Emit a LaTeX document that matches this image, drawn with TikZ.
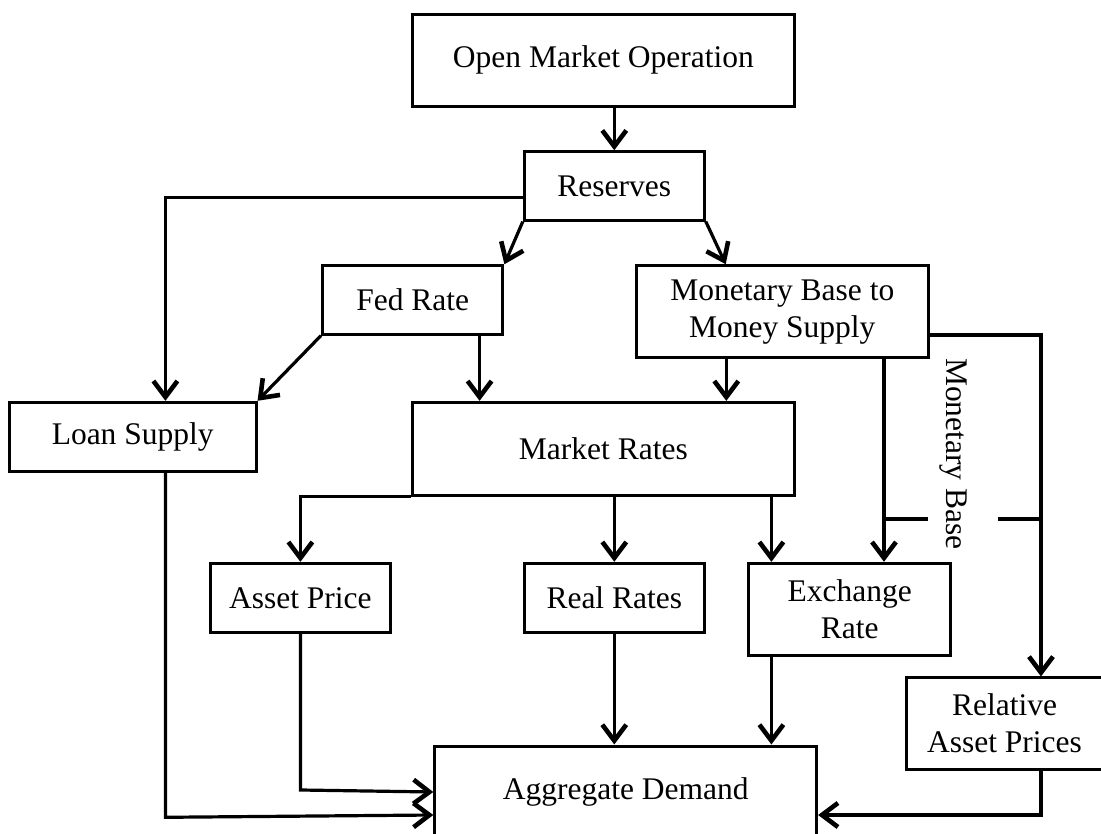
\documentclass[tikz,border=0pt]{standalone}
\usepackage{fontspec}
\setmainfont{Liberation Serif}
\usetikzlibrary{arrows.meta}
\begin{document}
\begin{tikzpicture}[x=1pt,y=-1pt,
  box/.style={draw, line width=3pt, inner sep=0pt, align=center,
    font=\fontsize{31.5}{37}\selectfont},
  link/.style={line width=3.2pt},
  arr/.style={link, -{Straight Barb[length=16pt,width=24pt,line width=4.6pt]}},
  lbl/.style={inner sep=0pt, font=\fontsize{31.5}{37}\selectfont}]
  % canvas
  \fill[white] (0,0) rectangle (1101,834);
  \useasboundingbox (0,0) rectangle (1101,834);

  % boxes
  \node[box, minimum width=381.8pt, minimum height=91.7pt] (omo)   at (603.4,60.2)  {Open Market Operation};
  \node[box, minimum width=180pt,   minimum height=68.3pt] (res)   at (614.3,185.9) {Reserves};
  \node[box, minimum width=180.4pt, minimum height=68.3pt] (fed)   at (412.7,299.9) {Fed Rate};
  \node[box, minimum width=291.8pt, minimum height=92pt]   (mb)    at (782.3,311.7) {Monetary Base to\\Money Supply};
  \node[box, minimum width=246.7pt, minimum height=69.4pt] (loan)  at (132.7,437)   {Loan Supply};
  \node[box, minimum width=381.8pt, minimum height=92.7pt] (mr)    at (603.4,448.7) {Market Rates};
  \node[box, minimum width=180pt,   minimum height=69pt]   (asset) at (300.4,597.8) {Asset Price};
  \node[box, minimum width=180pt,   minimum height=69pt]   (real)  at (614.3,597.8) {Real Rates};
  \node[box, minimum width=202pt,   minimum height=92pt]   (exch)  at (849.7,609.3) {Exchange\\Rate};
  \node[box, minimum width=197pt,   minimum height=91.3pt] (rel)   at (1004.5,723.6) {Relative\\Asset Prices};
  \node[box, minimum width=381.8pt, minimum height=92pt]   (ad)    at (625.7,792)   {Aggregate Demand};

  % branch points
  \coordinate (mbL) at ([xshift=101.7pt]mb.south);
  \coordinate (mbR) at ([yshift=-23.3pt]mb.east);
  \coordinate (relIn) at ([xshift=36.5pt]rel.north);
  \coordinate (tick) at (0,519);

  % connectors
  \draw[arr] (res.north |- omo.south) -- (res.north);
  \draw[arr] ([yshift=-11.8pt]res.west) -| ([xshift=32.7pt]loan.north);
  \draw[arr] (res.south west) -- (fed.north east);
  \draw[arr] (res.south east) -- ([xshift=-56.6pt]mb.north);
  \draw[arr] (fed.south west) -- (loan.north east);
  \draw[arr] ([xshift=66.9pt]fed.south) -- ([xshift=66.9pt]fed.south |- mr.north);
  \draw[arr] ([xshift=-56pt]mb.south) -- ([xshift=-56pt]mb.south |- mr.north);
  \draw[arr] (mbR) -| (relIn);
  \draw[arr] (mbL) -- (mbL |- exch.north);
  \draw[link] (mbL |- tick) -- ++(44.3,0);
  \draw[link] (relIn |- tick) -- ++(-42.8,0);
  \node[lbl, rotate=-90] (mbase) at (953,454) {Monetary Base};

  \draw[arr] (mr.south west) -| (asset.north);
  \draw[arr] (real.north |- mr.south) -- (real.north);
  \draw[arr] ([xshift=-78.3pt]exch.north |- mr.south) -- ([xshift=-78.3pt]exch.north);

  \draw[arr] (asset.south) -- (asset.south |- 0,790) -- (ad.west);
  \draw[arr] ([xshift=32.7pt]loan.south) -- ([xshift=32.7pt]loan.south |- 0,817.3) -- ([yshift=-23pt]ad.west);
  \draw[arr] (real.south) -- (real.south |- ad.north);
  \draw[arr] ([xshift=-78.3pt]exch.south) -- ([xshift=-78.3pt]exch.south |- ad.north);
  \draw[arr] ([xshift=36.5pt]rel.south) |- ([yshift=-23pt]ad.east);
\end{tikzpicture}
\end{document}
